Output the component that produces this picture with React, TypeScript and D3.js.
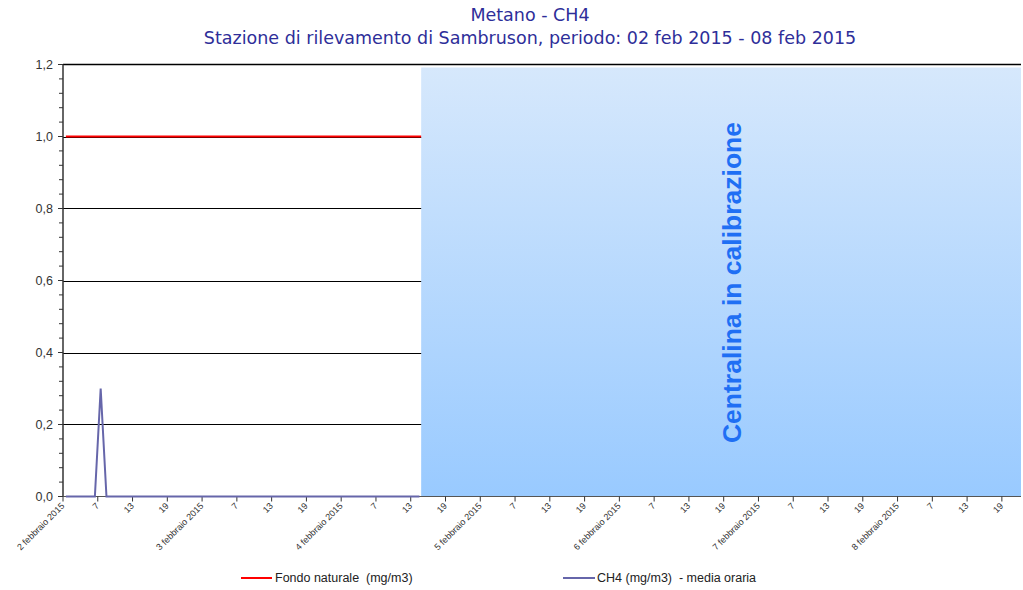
import React from "react";
import * as d3 from "d3";

const titleLines = ["Metano - CH4", "Stazione di rilevamento di Sambruson, periodo: 02 feb 2015 - 08 feb 2015"];
const dayLabels = ["2 febbraio 2015", "3 febbraio 2015", "4 febbraio 2015", "5 febbraio 2015", "6 febbraio 2015", "7 febbraio 2015", "8 febbraio 2015"];
const hourLabels = ["7", "13", "19"];
const yTicks = [0, 0.2, 0.4, 0.6, 0.8, 1.0, 1.2];
const ch4Values = [
  0, 0, 0, 0, 0, 0, 0.3, 0, 0, 0, 0, 0, 0, 0, 0, 0, 0, 0, 0, 0, 0, 0, 0, 0,
  0, 0, 0, 0, 0, 0, 0, 0, 0, 0, 0, 0, 0, 0, 0, 0, 0, 0, 0, 0, 0, 0, 0, 0,
  0, 0, 0, 0, 0, 0, 0, 0, 0, 0, 0, 0, 0, 0,
];
const fondoValues = ch4Values.map(() => 1.0);
const calibrationText = "Centralina in calibrazione";
const legendLabels = ["Fondo naturale  (mg/m3)", "CH4 (mg/m3)  - media oraria"];

const W = 1023, H = 590;
const left = 63, right = 1021, top = 64.5, bottom = 496.5;
const totalHours = 165.3;

export default function App() {
  const x = d3.scaleLinear().domain([0, totalHours]).range([left, right]);
  const y = d3.scaleLinear().domain([0, 1.2]).range([bottom, top]);
  const calStart = ch4Values.length - 0.2;

  const line = d3.line<number>().x((_, i) => x(i + 0.5)).y((d) => y(d));
  const fondoLine = d3.line<number>().x((_, i) => x(i === fondoValues.length - 1 ? calStart : i + 0.5)).y((d) => y(d));

  const ticks: { t: number; label: string; day: boolean }[] = [];
  dayLabels.forEach((dl, d) => {
    ticks.push({ t: d * 24, label: dl, day: true });
    hourLabels.forEach((hl, k) => {
      const t = d * 24 + (k + 1) * 6;
      if (t <= totalHours) ticks.push({ t, label: hl, day: false });
    });
  });
  const minor = d3.range(0, 1.2001, 0.04);

  return (
    <svg width={W} height={H} style={{ position: "absolute", left: 0, top: 0, background: "#fff", whiteSpace: "pre" }} fontFamily="'Liberation Sans', Arial, sans-serif">
      <defs>
        <linearGradient id="calg" x1="0" y1="0" x2="0" y2="1">
          <stop offset="0" stopColor="#d6e8fc" />
          <stop offset="1" stopColor="#99caff" />
        </linearGradient>
      </defs>
      <text x={530} y={21} textAnchor="middle" fontFamily="'DejaVu Sans', sans-serif" fontSize={17.5} fill="#2e2e99">{titleLines[0]}</text>
      <text x={530} y={44} textAnchor="middle" fontFamily="'DejaVu Sans', sans-serif" fontSize={17.5} fill="#2e2e99">{titleLines[1]}</text>

      {/* grid lines */}
      {yTicks.filter((v) => v > 0 && v < 1.2).map((v) => (
        <line key={"g" + v} x1={left} x2={right} y1={Math.round(y(v)) + 0.5} y2={Math.round(y(v)) + 0.5} stroke="#000" strokeWidth={1} />
      ))}
      <line x1={left} x2={right} y1={top} y2={top} stroke="#000" strokeWidth={1.5} />

      {/* calibration region */}
      <rect x={x(calStart)} y={top + 3} width={right - x(calStart)} height={bottom - top - 3} fill="url(#calg)" />
      <text transform={`translate(${741},${(top + bottom) / 2 + 2}) rotate(-90)`} textAnchor="middle" fontSize={26.5} fontWeight="bold" fill="#1f6ff4">{calibrationText}</text>

      {/* y axis */}
      <line x1={left} x2={left} y1={top} y2={bottom} stroke="#333" strokeWidth={1.5} />
      {minor.map((v, i) => (
        <line key={"m" + i} x1={left - 4} x2={left} y1={y(v)} y2={y(v)} stroke="#333" strokeWidth={1} />
      ))}
      {yTicks.map((v) => (
        <g key={"yt" + v}>
          <line x1={left - 5} x2={left} y1={y(v)} y2={y(v)} stroke="#333" strokeWidth={1} />
          <text x={left - 10} y={y(v)} dy="0.35em" textAnchor="end" fontSize={12.5} fill="#333">{v.toFixed(1).replace(".", ",")}</text>
        </g>
      ))}

      {/* x axis */}
      <line x1={left} x2={right} y1={bottom} y2={bottom} stroke="#555" strokeWidth={1} />
      {ticks.map((tk, i) => (
        <g key={"xt" + i}>
          <line x1={x(tk.t)} x2={x(tk.t)} y1={bottom} y2={bottom + 5} stroke="#333" strokeWidth={1} />
          <text transform={`translate(${x(tk.t) + 2},${bottom + 10}) rotate(-45)`} textAnchor="end" fontSize={9} fill="#333">{tk.label}</text>
        </g>
      ))}

      {/* series */}
      <path d={fondoLine(fondoValues) || ""} fill="none" stroke="#ff0000" strokeWidth={2} />
      <path d={line(ch4Values) || ""} fill="none" stroke="#6666aa" strokeWidth={2} />

      {/* legend */}
      <line x1={241} x2={272} y1={578} y2={578} stroke="#ff0000" strokeWidth={2} />
      <text x={275} y={578} dy="0.35em" fontSize={12.5} fill="#222" xmlSpace="preserve">{legendLabels[0]}</text>
      <line x1={563} x2={595} y1={578} y2={578} stroke="#6666aa" strokeWidth={2} />
      <text x={597} y={578} dy="0.35em" fontSize={12.5} fill="#222" xmlSpace="preserve">{legendLabels[1]}</text>
    </svg>
  );
}
